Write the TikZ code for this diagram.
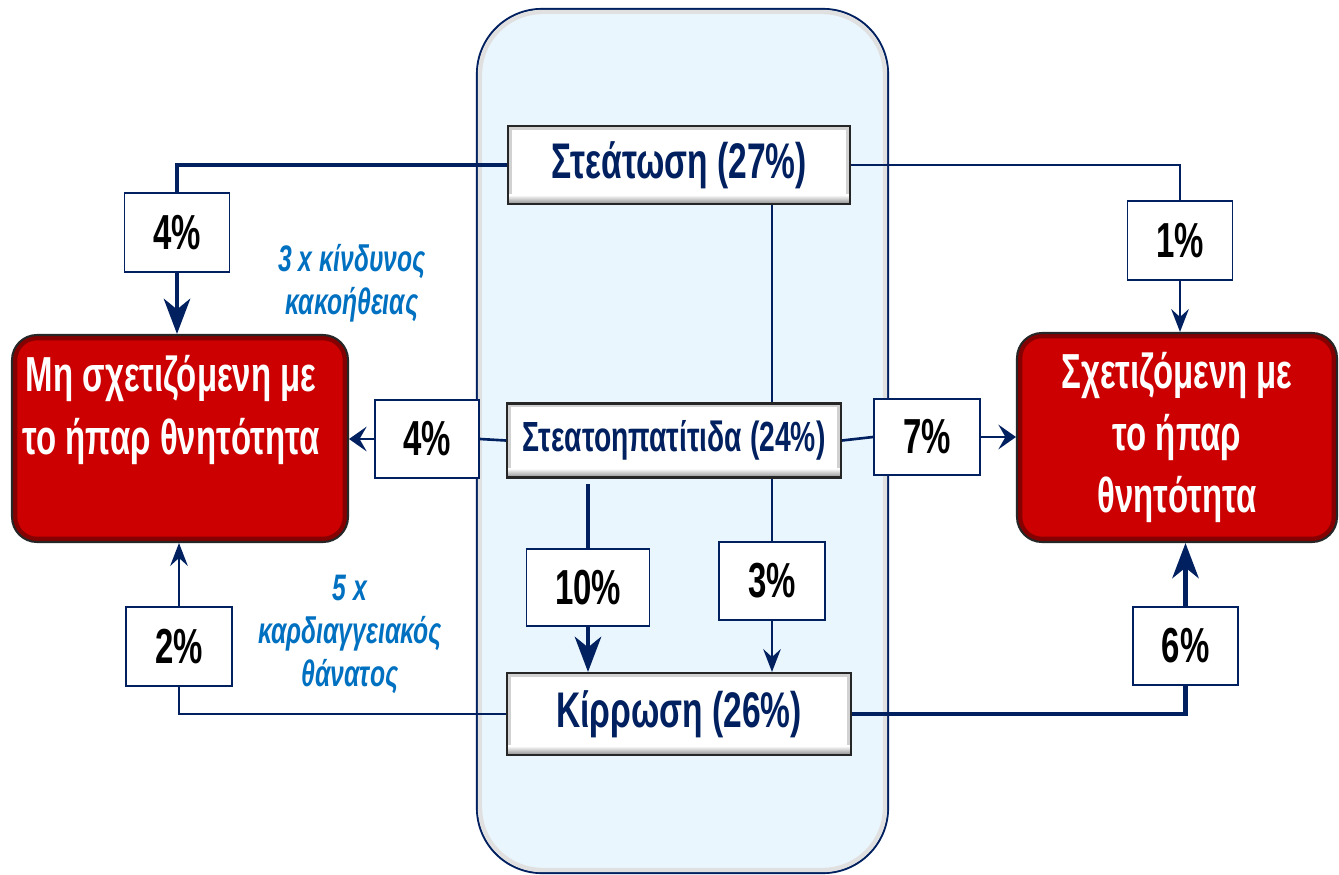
\documentclass[tikz,border=0pt]{standalone}
\usepackage{fontspec}
\setmainfont[FakeStretch=0.67]{Liberation Sans}
\usetikzlibrary{arrows.meta,calc}
\definecolor{navy}{HTML}{002060}
\definecolor{boxred}{HTML}{CC0000}
\definecolor{paleblue}{HTML}{EAF6FE}
\definecolor{textblue}{HTML}{0070C0}
\begin{document}
\begin{tikzpicture}[x=0.02cm,y=-0.02cm,
  stagebox/.style={draw=black!85, line width=1.2pt, fill=white, text=navy,
    font=\bfseries\fontsize{28.5}{32}\selectfont, inner sep=0pt,
    path picture={
      \draw[black!18, line width=4pt] (path picture bounding box.south west) rectangle (path picture bounding box.north east);
      \shade[top color=white, bottom color=black!45] ($(path picture bounding box.south west)+(0,-9)$) rectangle (path picture bounding box.south east);
    }},
  outcome/.style={draw=black!85, fill=boxred, rounded corners=0.5cm, line width=1.2pt,
    path picture={
      \draw[black!35!boxred, line width=6pt, rounded corners=0.5cm] (path picture bounding box.south west) rectangle (path picture bounding box.north east);
    }},
  outtext/.style={text=white, align=center, font=\bfseries\fontsize{28}{35.5}\selectfont},
  pctbox/.style={draw=navy, fill=white, line width=1.1pt, inner sep=0pt,
    font=\bfseries\fontsize{28}{32}\selectfont},
  note/.style={text=textblue, align=center, font=\bfseries\itshape\fontsize{21}{24.5}\selectfont},
  thinline/.style={draw=navy, line width=1.5pt},
  thickline/.style={draw=navy, line width=2.7pt},
  thinarrow/.style={-{Stealth[length=13pt,width=10pt,inset=4.5pt]}},
  sidearrow/.style={-{Stealth[length=10pt,width=14pt,inset=4pt]}},
  thickarrow/.style={-{Stealth[length=20pt,width=15pt,inset=6pt]}}
]
\useasboundingbox (0,0) rectangle (1339,875);
% central container
\draw[draw=navy, line width=1.2pt, fill=paleblue, rounded corners=1.3cm] (477,9) rectangle (888,873);
\draw[black!12, line width=2.5pt, rounded corners=1.25cm] (480,12) rectangle (885,870);

% stage boxes
\node[stagebox, minimum width=6.84cm, minimum height=1.56cm] (S) at (679,165) {Στεάτωση (27\%)};
\node[stagebox, minimum width=6.68cm, minimum height=1.48cm, font=\bfseries\fontsize{24}{28}\selectfont] (H) at (674,440.5) {Στεατοηπατίτιδα (24\%)};
\node[stagebox, minimum width=6.88cm, minimum height=1.64cm] (C) at (679,714) {Κίρρωση (26\%)};

% outcome boxes
\node[outcome, minimum width=6.72cm, minimum height=4.14cm] (L) at (180,438.5) {};
\node[outtext] (Ltext) at (171,410) {Μη σχετιζόμενη με\\το ήπαρ θνητότητα};
\node[outcome, minimum width=6.4cm, minimum height=4.18cm, outtext] (R) at (1177,437.5) {Σχετιζόμενη με\\το ήπαρ\\θνητότητα};

% percentage boxes
\node[pctbox, minimum width=2.1cm, minimum height=1.58cm] (p4a) at (177,232.5) {4\%};
\node[pctbox, minimum width=2.1cm, minimum height=1.58cm] (p1) at (1180,240.5) {1\%};
\node[pctbox, minimum width=2.08cm, minimum height=1.56cm] (p4b) at (427,439) {4\%};
\node[pctbox, minimum width=2.12cm, minimum height=1.52cm] (p7) at (927,437) {7\%};
\node[pctbox, minimum width=2.46cm, minimum height=1.54cm] (p10) at (588,587.5) {10\%};
\node[pctbox, minimum width=2.12cm, minimum height=1.56cm] (p3) at (772,581) {3\%};
\node[pctbox, minimum width=2.12cm, minimum height=1.58cm] (p2) at (179,646.5) {2\%};
\node[pctbox, minimum width=2.1cm, minimum height=1.56cm] (p6) at (1185.5,646) {6\%};

% notes
\node[note] (n1) at (352,283) {3 x κίνδυνος\\κακοήθειας};
\node[note] (n2) at (350,634) {5 x\\καρδιαγγειακός\\θάνατος};

% connectors
\draw[thickline] (S.west) -| (p4a.north);
\draw[thickline, thickarrow] (p4a.south) -- (p4a.south |- L.north);
\draw[thinline] (S.east) -| (p1.north);
\draw[thinline, thinarrow] (p1.south) -- (p1.south |- R.north);
\draw[thinline] (S.south -| p3.north) -- (H.north -| p3.north);
\draw[thinline] (H.west) -- (p4b.east);
\draw[thinline, sidearrow] (p4b.west) -- (L.east |- p4b.west);
\draw[thinline] (H.east) -- (p7.west);
\draw[thinline, sidearrow] (p7.east) -- (R.west |- p7.east);
\coordinate (h10) at (588,484);
\draw[thickline] (h10) -- (p10.north);
\draw[thickline, thickarrow] (p10.south) -- (p10.south |- C.north);
\draw[thinline] (H.south -| p3.north) -- (p3.north);
\draw[thinline, thinarrow] (p3.south) -- (p3.south |- C.north);
\draw[thinline] (C.west) -| (p2.south);
\draw[thinline, thinarrow] (p2.north) -- (p2.north |- L.south);
\draw[thickline] (C.east) -| (p6.south);
\draw[thickline, thickarrow] (p6.north) -- (p6.north |- R.south);
\end{tikzpicture}
\end{document}
